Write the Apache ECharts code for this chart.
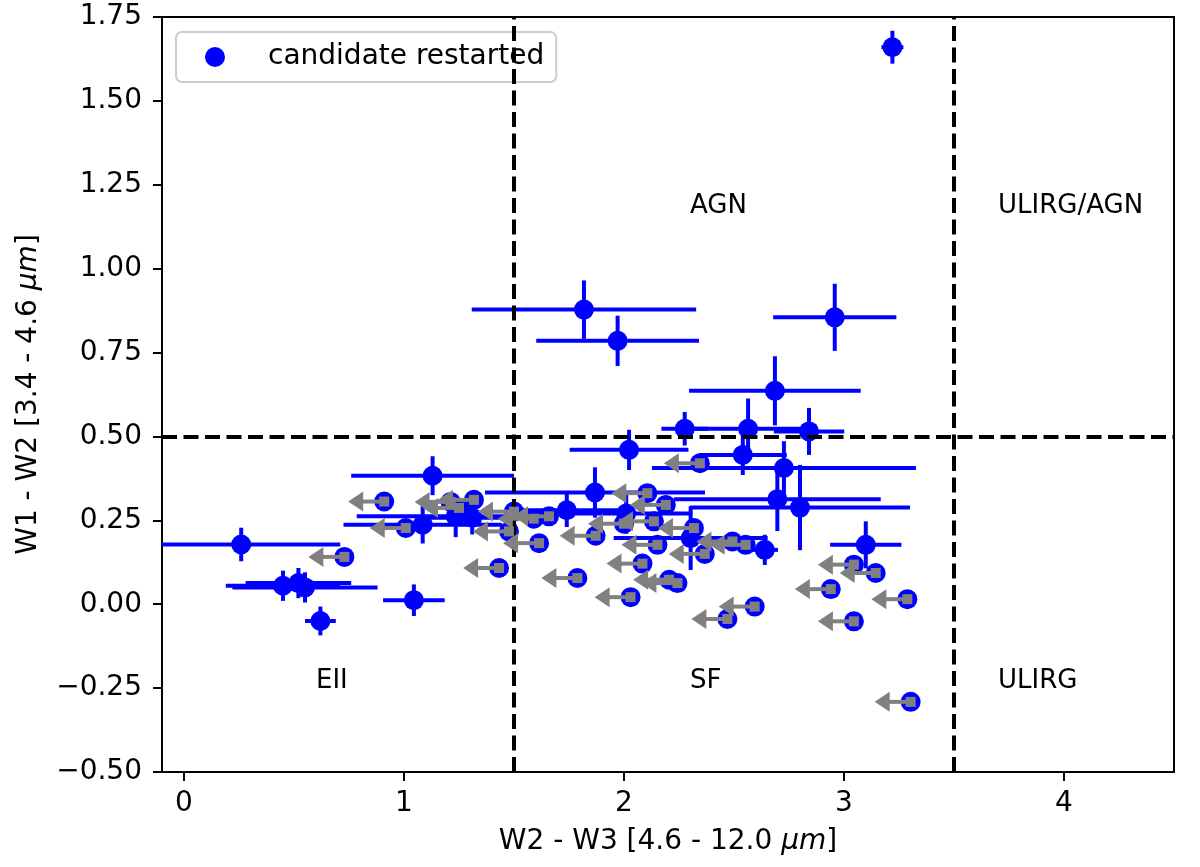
<!DOCTYPE html>
<html>
<head>
<meta charset="utf-8">
<script src="https://cdn.jsdelivr.net/npm/echarts@6/dist/echarts.min.js"></script>
<style>
  html, body { margin: 0; padding: 0; background: #ffffff; }
  #chart { width: 1200px; height: 867px; }
</style>
</head>
<body>
<div id="chart"></div>
<script>
// ---- detected sources (filled markers with error bars) ----
const detX    = [0.26, 0.45, 0.52, 0.55, 0.62, 1.045, 1.13, 1.085, 1.235, 1.31, 1.74, 1.868, 2.01, 1.818, 1.971, 2.958, 2.686, 2.276, 2.564, 2.841, 2.023, 2.54, 2.727, 2.697, 2.80, 3.099, 2.64, 2.303, 3.22];
const detY    = [0.178, 0.055, 0.063, 0.05, -0.05, 0.012, 0.383, 0.237, 0.262, 0.258, 0.28, 0.333, 0.27, 0.878, 0.785, 0.855, 0.636, 0.523, 0.523, 0.515, 0.46, 0.445, 0.406, 0.313, 0.288, 0.177, 0.162, 0.197, 1.66];
const detXErr = [0.45, 0.26, 0.24, 0.33, 0.07, 0.14, 0.37, 0.36, 0.45, 0.2, 0.25, 0.5, 0.3, 0.51, 0.37, 0.28, 0.39, 0.106, 0.3, 0.16, 0.27, 0.2, 0.6, 0.47, 0.5, 0.162, 0.06, 0.35, 0.05];
const detYErr = [0.05, 0.045, 0.045, 0.045, 0.043, 0.047, 0.058, 0.056, 0.062, 0.05, 0.05, 0.075, 0.06, 0.087, 0.075, 0.10, 0.103, 0.05, 0.09, 0.07, 0.06, 0.06, 0.08, 0.095, 0.127, 0.07, 0.045, 0.095, 0.049];

// ---- upper limits in W2-W3 (open markers with grey arrows) ----
const ulX = [0.729, 0.91, 1.008, 1.212, 1.25, 1.318, 1.432, 1.5, 1.477, 1.59, 1.614, 1.659, 1.788, 1.871, 2.0, 2.03, 2.084, 2.106, 2.136, 2.152, 2.19, 2.205, 2.243, 2.318, 2.345, 2.367, 2.47, 2.493, 2.553, 2.594, 2.94, 3.045, 3.045, 3.144, 3.288, 3.303];
const ulY = [0.141, 0.306, 0.227, 0.305, 0.287, 0.311, 0.108, 0.276, 0.217, 0.255, 0.182, 0.262, 0.078, 0.204, 0.24, 0.021, 0.121, 0.331, 0.247, 0.177, 0.296, 0.073, 0.063, 0.227, 0.42, 0.15, -0.044, 0.187, 0.177, -0.007, 0.045, 0.118, -0.051, 0.093, 0.015, -0.291];
const ulArrowLen = 0.1;

// ---- region labels and divider lines ----
const regionNames = ['AGN', 'ULIRG/AGN', 'EII', 'SF', 'ULIRG'];
const regionX = [2.3, 3.7, 0.6, 2.3, 3.7];
const regionY = [1.165, 1.165, -0.25, -0.25, -0.25];
const dividerX = [1.5, 3.5];
const dividerY = [0.5];

// ---- axes ----
const xTicks = [0, 1, 2, 3, 4];
const xMin = -0.1, xMax = 4.5;
const yMin = -0.5, yMax = 1.75, yStep = 0.25;

const FONT = 'DejaVu Sans';
const FS = 28;
const BLUE = '#0000ff';
const GREY = '#808080';

const detData = detX.map((x, i) => [x, detY[i], detXErr[i], detYErr[i]]);
const ulData = ulX.map((x, i) => [x, ulY[i]]);
const regionData = regionNames.map((n, i) => [regionX[i], regionY[i], n]);

const chart = echarts.init(document.getElementById('chart'), null, { renderer: 'canvas' });

const option = {
  backgroundColor: '#ffffff',
  animation: false,
  textStyle: { fontFamily: FONT },
  grid: { left: 162, right: 26, top: 17, bottom: 95, show: true, borderColor: '#000', borderWidth: 2, backgroundColor: 'transparent' },
  legend: {
    data: [{ name: 'candidate restarted', icon: 'circle' }],
    left: 176, top: 32,
    itemWidth: 40, itemHeight: 20,
    padding: [11, 12, 11, 29],
    borderColor: '#cccccc', borderWidth: 2, borderRadius: 6,
    backgroundColor: 'rgba(255,255,255,0.8)',
    textStyle: { fontSize: FS, color: '#000', fontFamily: FONT, padding: [0, 0, 0, 28] },
    selectedMode: false
  },
  xAxis: {
    type: 'value', min: xMin, max: xMax,
    name: 'W2 - W3 [4.6 - 12.0 {i|μm}]',
    nameLocation: 'middle', nameGap: 56,
    nameTextStyle: { fontSize: FS, color: '#000', fontFamily: FONT, rich: { i: { fontSize: FS, fontStyle: 'italic', fontFamily: FONT, color: '#000' } } },
    splitLine: { show: false },
    axisLine: { show: true, onZero: false, lineStyle: { color: '#000', width: 2 } },
    axisTick: { show: true, inside: false, length: 9, lineStyle: { color: '#000', width: 2 }, customValues: xTicks },
    axisLabel: { fontSize: FS, color: '#000', margin: 18, fontFamily: FONT, customValues: xTicks, formatter: v => String(v) }
  },
  yAxis: {
    type: 'value', min: yMin, max: yMax, interval: yStep,
    name: 'W1 - W2 [3.4 - 4.6 {i|μm}]',
    nameLocation: 'middle', nameGap: 119, nameRotate: 90,
    nameTextStyle: { fontSize: FS, color: '#000', fontFamily: FONT, rich: { i: { fontSize: FS, fontStyle: 'italic', fontFamily: FONT, color: '#000' } } },
    splitLine: { show: false },
    axisLine: { show: true, onZero: false, lineStyle: { color: '#000', width: 2 } },
    axisTick: { show: true, inside: false, length: 9, lineStyle: { color: '#000', width: 2 } },
    axisLabel: { fontSize: FS, color: '#000', margin: 20, fontFamily: FONT, formatter: v => v.toFixed(2).replace('-', '\u2212') }
  },
  series: [
    {
      name: 'errbars', type: 'custom', z: 2, silent: true,
      data: detData,
      encode: { x: 0, y: 1 },
      renderItem: function (params, api) {
        const x = api.value(0), y = api.value(1), ex = api.value(2), ey = api.value(3);
        const cs = params.coordSys;
        const l = api.coord([x - ex, y]);
        const r = api.coord([x + ex, y]);
        const t = api.coord([x, y + ey]);
        const b = api.coord([x, y - ey]);
        const lx = Math.max(l[0], cs.x);
        const rx = Math.min(r[0], cs.x + cs.width);
        const st = { stroke: BLUE, lineWidth: 4 };
        return {
          type: 'group',
          children: [
            { type: 'line', shape: { x1: lx, y1: l[1], x2: rx, y2: r[1] }, style: st },
            { type: 'line', shape: { x1: t[0], y1: t[1], x2: b[0], y2: b[1] }, style: st }
          ]
        };
      }
    },
    {
      name: 'candidate restarted', type: 'scatter', z: 3, silent: true,
      symbol: 'circle', symbolSize: 20,
      itemStyle: { color: BLUE, opacity: 1 },
      data: detData.map(d => [d[0], d[1]])
    },
    {
      name: 'upper limits', type: 'scatter', z: 3, silent: true,
      symbol: 'circle', symbolSize: 20,
      itemStyle: { color: BLUE, opacity: 1 },
      data: ulData
    },
    {
      name: 'dividers', type: 'line', z: 4, silent: true, data: [],
      markLine: {
        silent: true, symbol: ['none', 'none'], label: { show: false },
        lineStyle: { color: '#000', width: 4, type: [15, 6.5] },
        data: dividerX.map(v => ({ xAxis: v })).concat(dividerY.map(v => ({ yAxis: v })))
      }
    },
    {
      name: 'arrows', type: 'custom', z: 5, silent: true,
      data: ulData,
      encode: { x: 0, y: 1 },
      renderItem: function (params, api) {
        const x = api.value(0), y = api.value(1);
        const p = api.coord([x, y]);
        const e = api.coord([x - ulArrowLen, y]);
        return {
          type: 'group',
          children: [
            { type: 'line', shape: { x1: p[0], y1: p[1], x2: e[0], y2: e[1] }, style: { stroke: GREY, lineWidth: 4 } },
            { type: 'polygon', shape: { points: [[e[0] + 1, e[1] - 10], [e[0] + 1, e[1] + 10], [e[0] - 14, e[1]]] }, style: { fill: GREY } },
            { type: 'rect', shape: { x: p[0] - 5, y: p[1] - 5, width: 10, height: 10 }, style: { fill: GREY } }
          ]
        };
      }
    },
    {
      name: 'regions', type: 'custom', z: 6, silent: true,
      data: regionData,
      encode: { x: 0, y: 1 },
      renderItem: function (params, api) {
        const p = api.coord([api.value(0), api.value(1)]);
        return {
          type: 'text',
          x: p[0], y: p[1] + 6,
          style: { text: regionData[params.dataIndex][2], fontSize: 26, fontFamily: FONT, fill: '#000', align: 'left', verticalAlign: 'bottom' }
        };
      }
    }
  ]
};
chart.setOption(option);
</script>
</body>
</html>
